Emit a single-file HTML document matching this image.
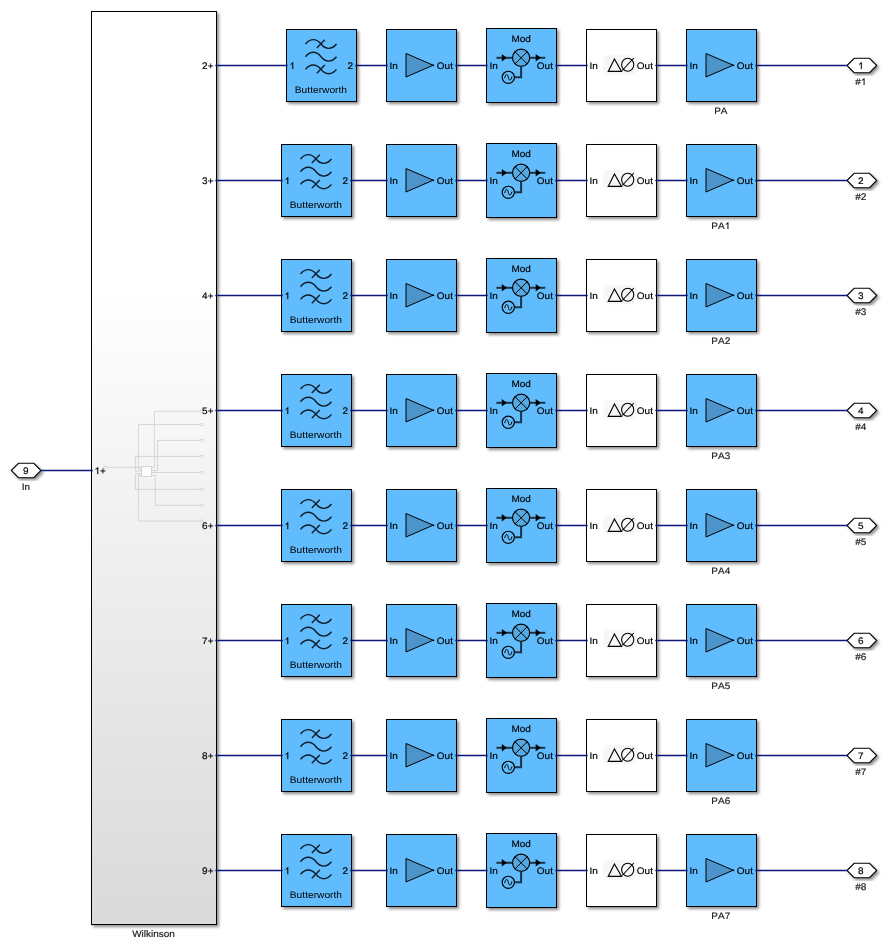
<!DOCTYPE html>
<html><head><meta charset="utf-8"><style>
html,body{margin:0;padding:0;background:#fff;}
body{width:887px;height:952px;overflow:hidden;}
svg{display:block;filter:blur(0.35px);font-family:"Liberation Sans",sans-serif;text-rendering:geometricPrecision;font-kerning:none;}
</style></head><body>
<svg width="887" height="952" viewBox="0 0 887 952" font-family="Liberation Sans">
<defs>
<path id="one" d="M763 0H583V1147Q518 1085 412.5 1023Q307 961 223 930V1104Q374 1175 487 1276Q600 1377 647 1472H763Z"/>
<linearGradient id="wg" gradientUnits="userSpaceOnUse" x1="0" y1="285.2" x2="0" y2="926.6">
<stop offset="0" stop-color="#ffffff"/><stop offset="1" stop-color="#d9d9d9"/>
</linearGradient>
<filter id="sh" x="-10%" y="-10%" width="130%" height="130%">
<feGaussianBlur in="SourceAlpha" stdDeviation="1.5"/>
<feOffset dx="2" dy="2" result="o"/>
<feComponentTransfer><feFuncA type="linear" slope="0.45"/></feComponentTransfer>
<feMerge><feMergeNode/><feMergeNode in="SourceGraphic"/></feMerge>
</filter>
</defs>
<rect width="887" height="952" fill="#fff"/>
<rect x="91.5" y="11.5" width="125" height="913" fill="url(#wg)" stroke="#000" stroke-width="1" filter="url(#sh)"/><text transform="translate(153.50 937.00) scale(1.05 1)" font-size="9.5" text-anchor="middle" fill="#1a1a1a" stroke="#1a1a1a" stroke-width="0.17" >Wilkinson</text><ellipse cx="201.5" cy="411.3" rx="2" ry="1.1" fill="none" stroke="#c9c9c9" stroke-width="0.7"/><ellipse cx="201.5" cy="424.6" rx="2" ry="1.1" fill="none" stroke="#c9c9c9" stroke-width="0.7"/><ellipse cx="201.5" cy="440.4" rx="2" ry="1.1" fill="none" stroke="#c9c9c9" stroke-width="0.7"/><ellipse cx="201.5" cy="456.4" rx="2" ry="1.1" fill="none" stroke="#c9c9c9" stroke-width="0.7"/><ellipse cx="201.5" cy="472.5" rx="2" ry="1.1" fill="none" stroke="#c9c9c9" stroke-width="0.7"/><ellipse cx="201.5" cy="489.4" rx="2" ry="1.1" fill="none" stroke="#c9c9c9" stroke-width="0.7"/><ellipse cx="201.5" cy="505.3" rx="2" ry="1.1" fill="none" stroke="#c9c9c9" stroke-width="0.7"/><ellipse cx="201.5" cy="521.1" rx="2" ry="1.1" fill="none" stroke="#c9c9c9" stroke-width="0.7"/><ellipse cx="105.3" cy="467.3" rx="2" ry="1.1" fill="none" stroke="#c9c9c9" stroke-width="0.7"/><rect x="141.4" y="466.5" width="10" height="10" fill="#fdfdfd" stroke="#c9c9c9" stroke-width="0.7"/><path d="M107.3,467.3 L141.4,467.3" fill="none" stroke="#c9c9c9" stroke-width="0.7"/><path d="M199.5,411.3 L154.4,411.3 L154.4,467.8 L151.4,467.8" fill="none" stroke="#c9c9c9" stroke-width="0.7"/><path d="M199.5,424.6 L138.4,424.6 L138.4,469 L141.4,469" fill="none" stroke="#c9c9c9" stroke-width="0.7"/><path d="M199.5,440.4 L157.5,440.4 L157.5,470.6 L151.4,470.6" fill="none" stroke="#c9c9c9" stroke-width="0.7"/><path d="M199.5,456.4 L135.4,456.4 L135.4,471.1 L141.4,471.1" fill="none" stroke="#c9c9c9" stroke-width="0.7"/><path d="M199.5,472.5 L151.4,472.5" fill="none" stroke="#c9c9c9" stroke-width="0.7"/><path d="M199.5,489.4 L135.4,489.4 L135.4,473.7 L141.4,473.7" fill="none" stroke="#c9c9c9" stroke-width="0.7"/><path d="M199.5,505.3 L155.3,505.3 L155.3,475.5 L151.4,475.5" fill="none" stroke="#c9c9c9" stroke-width="0.7"/><path d="M199.5,521.1 L138.4,521.1 L138.4,475.5 L141.4,475.5" fill="none" stroke="#c9c9c9" stroke-width="0.7"/><polygon points="11.3,470.5 18.5,463.3 33.8,463.3 41.0,470.5 33.8,477.7 18.5,477.7" fill="#fff" stroke="#000" stroke-width="1.1" filter="url(#sh)"/><text transform="translate(25.80 474.00) scale(1.05 1)" font-size="9.5" text-anchor="middle" fill="#000" stroke="#000" stroke-width="0.17" >9</text><text transform="translate(25.80 490.00) scale(1.05 1)" font-size="9.5" text-anchor="middle" fill="#1a1a1a" stroke="#1a1a1a" stroke-width="0.17" >In</text><line x1="40.8" y1="470.5" x2="92.7" y2="470.5" stroke="#0c177c" stroke-width="1.6"/><use href="#one" transform="translate(94.50 474.00) scale(0.00487 -0.00464)" fill="#000" stroke="#000" stroke-width="36.6"/><text transform="translate(100.05 474.00) scale(1.05 1)" font-size="9.5" fill="#000" stroke="#000" stroke-width="0.17" >+</text><text transform="translate(213.50 69.10) scale(1.05 1)" font-size="9.5" text-anchor="end" fill="#000" stroke="#000" stroke-width="0.17" >2+</text><rect x="286.5" y="29.5" width="70" height="72" fill="#60bcfc" stroke="#000" stroke-width="1" filter="url(#sh)"/><path d="M305.50,44.00 C310.30,38.15 316.20,38.15 321.00,44.00 C325.80,49.85 331.70,49.85 336.50,44.00" fill="none" stroke="#0e1c2a" stroke-width="1.4"/><path d="M305.50,56.70 C310.30,50.85 316.20,50.85 321.00,56.70 C325.80,62.55 331.70,62.55 336.50,56.70" fill="none" stroke="#0e1c2a" stroke-width="1.4"/><path d="M305.50,69.40 C310.30,63.55 316.20,63.55 321.00,69.40 C325.80,75.25 331.70,75.25 336.50,69.40" fill="none" stroke="#0e1c2a" stroke-width="1.4"/><line x1="316.80" y1="47.90" x2="324.80" y2="39.70" stroke="#0e1c2a" stroke-width="1.4"/><line x1="316.80" y1="73.30" x2="324.80" y2="65.10" stroke="#0e1c2a" stroke-width="1.4"/><use href="#one" transform="translate(289.50 69.10) scale(0.00487 -0.00464)" fill="#000" stroke="#000" stroke-width="36.6"/><text transform="translate(347.50 69.10) scale(1.05 1)" font-size="9.5" text-anchor="start" fill="#000" stroke="#000" stroke-width="0.17" >2</text><text transform="translate(320.90 92.50) scale(1.075 1)" font-size="9.5" text-anchor="middle">Butterworth</text><rect x="386.5" y="29.5" width="70" height="72" fill="#60bcfc" stroke="#000" stroke-width="1" filter="url(#sh)"/><path d="M406,53.5 L433.2,65.2 L406,77.0 Z" fill="#4c94c9" stroke="#000" stroke-width="1"/><circle cx="433.4" cy="65.3" r="0.9" fill="#000"/><text transform="translate(389.40 69.10) scale(1.05 1)" font-size="9.5" text-anchor="start" fill="#000" stroke="#000" stroke-width="0.17" >In</text><text transform="translate(452.90 69.10) scale(1.05 1)" font-size="9.5" text-anchor="end" fill="#000" stroke="#000" stroke-width="0.17" >Out</text><rect x="486.5" y="28.5" width="70" height="74" fill="#60bcfc" stroke="#000" stroke-width="1" filter="url(#sh)"/><line x1="496.4" y1="57.8" x2="512.5" y2="57.8" stroke="#1d3347" stroke-width="2"/><line x1="529.7" y1="57.8" x2="545.3" y2="57.8" stroke="#1d3347" stroke-width="2"/><path d="M501.8,54.099999999999994 L506.9,57.8 L501.8,61.5 Z" fill="#000"/><path d="M535.7,54.099999999999994 L540.8,57.8 L535.7,61.5 Z" fill="#000"/><circle cx="521.1" cy="57.8" r="8.6" fill="#55a9e3" stroke="#000" stroke-width="1.2"/><path d="M515.01894,51.718939999999996 L527.18106,63.88106 M527.18106,51.718939999999996 L515.01894,63.88106" stroke="#000" stroke-width="1"/><path d="M521.1,66.39999999999999 L521.1,77.3 L514.4,77.3" fill="none" stroke="#1d3347" stroke-width="2"/><circle cx="508.3" cy="77.3" r="6.1" fill="none" stroke="#000" stroke-width="1.15"/><path d="M504.7,78.1 C505.7,73.1 507.7,73.7 508.3,77.3 C508.90000000000003,80.89999999999999 510.90000000000003,81.5 511.90000000000003,76.5" fill="none" stroke="#000" stroke-width="1"/><text transform="translate(521.20 42.10) scale(1.05 1)" font-size="9.5" text-anchor="middle" fill="#000" stroke="#000" stroke-width="0.17" >Mod</text><text transform="translate(489.40 69.10) scale(1.05 1)" font-size="9.5" text-anchor="start" fill="#000" stroke="#000" stroke-width="0.17" >In</text><text transform="translate(552.90 69.10) scale(1.05 1)" font-size="9.5" text-anchor="end" fill="#000" stroke="#000" stroke-width="0.17" >Out</text><rect x="586.5" y="29.5" width="70" height="72" fill="#fff" stroke="#000" stroke-width="1" filter="url(#sh)"/><rect x="603.5" y="54.8" width="33.5" height="19.7" rx="5" fill="#f7f7f7"/><path d="M614.4,58.9 L608.2,71.4 L621.6,71.4 Z" fill="none" stroke="#000" stroke-width="1.1"/><ellipse cx="627.7" cy="64.8" rx="6.1" ry="6.5" fill="none" stroke="#000" stroke-width="1.1"/><line x1="622.2" y1="70.5" x2="633.8" y2="58.0" stroke="#000" stroke-width="1.1"/><text transform="translate(589.40 69.10) scale(1.05 1)" font-size="9.5" text-anchor="start" fill="#000" stroke="#000" stroke-width="0.17" >In</text><text transform="translate(652.90 69.10) scale(1.05 1)" font-size="9.5" text-anchor="end" fill="#000" stroke="#000" stroke-width="0.17" >Out</text><rect x="686.5" y="29.5" width="70" height="72" fill="#60bcfc" stroke="#000" stroke-width="1" filter="url(#sh)"/><path d="M706,53.5 L733.2,65.2 L706,77.0 Z" fill="#4c94c9" stroke="#000" stroke-width="1"/><circle cx="733.4" cy="65.3" r="0.9" fill="#000"/><text transform="translate(689.40 69.10) scale(1.05 1)" font-size="9.5" text-anchor="start" fill="#000" stroke="#000" stroke-width="0.17" >In</text><text transform="translate(752.90 69.10) scale(1.05 1)" font-size="9.5" text-anchor="end" fill="#000" stroke="#000" stroke-width="0.17" >Out</text><text transform="translate(720.80 114.00) scale(1.05 1)" font-size="9.5" text-anchor="middle" fill="#1a1a1a" stroke="#1a1a1a" stroke-width="0.17" >PA</text><polygon points="847.0,65.5 854.2,58.3 869.5,58.3 876.7,65.5 869.5,72.7 854.2,72.7" fill="#fff" stroke="#000" stroke-width="1.1" filter="url(#sh)"/><use href="#one" transform="translate(858.03 69.00) scale(0.00487 -0.00464)" fill="#000" stroke="#000" stroke-width="36.6"/><text transform="translate(855.25 85.00) scale(1.05 1)" font-size="9.5" fill="#1a1a1a" stroke="#1a1a1a" stroke-width="0.17" >#</text><use href="#one" transform="translate(860.80 85.00) scale(0.00487 -0.00464)" fill="#1a1a1a" stroke="#1a1a1a" stroke-width="36.6"/><line x1="215.3" y1="65.5" x2="287.7" y2="65.5" stroke="#0c177c" stroke-width="1.6"/><line x1="355.3" y1="65.5" x2="387.7" y2="65.5" stroke="#0c177c" stroke-width="1.6"/><line x1="455.3" y1="65.5" x2="487.7" y2="65.5" stroke="#0c177c" stroke-width="1.6"/><line x1="555.3" y1="65.5" x2="587.7" y2="65.5" stroke="#0c177c" stroke-width="1.6"/><line x1="655.3" y1="65.5" x2="687.7" y2="65.5" stroke="#0c177c" stroke-width="1.6"/><line x1="755.3" y1="65.5" x2="847.3" y2="65.5" stroke="#0c177c" stroke-width="1.6"/><text transform="translate(213.50 184.10) scale(1.05 1)" font-size="9.5" text-anchor="end" fill="#000" stroke="#000" stroke-width="0.17" >3+</text><rect x="281.5" y="144.5" width="70" height="72" fill="#60bcfc" stroke="#000" stroke-width="1" filter="url(#sh)"/><path d="M300.50,159.00 C305.30,153.15 311.20,153.15 316.00,159.00 C320.80,164.85 326.70,164.85 331.50,159.00" fill="none" stroke="#0e1c2a" stroke-width="1.4"/><path d="M300.50,171.70 C305.30,165.85 311.20,165.85 316.00,171.70 C320.80,177.55 326.70,177.55 331.50,171.70" fill="none" stroke="#0e1c2a" stroke-width="1.4"/><path d="M300.50,184.40 C305.30,178.55 311.20,178.55 316.00,184.40 C320.80,190.25 326.70,190.25 331.50,184.40" fill="none" stroke="#0e1c2a" stroke-width="1.4"/><line x1="311.80" y1="162.90" x2="319.80" y2="154.70" stroke="#0e1c2a" stroke-width="1.4"/><line x1="311.80" y1="188.30" x2="319.80" y2="180.10" stroke="#0e1c2a" stroke-width="1.4"/><use href="#one" transform="translate(284.50 184.10) scale(0.00487 -0.00464)" fill="#000" stroke="#000" stroke-width="36.6"/><text transform="translate(342.50 184.10) scale(1.05 1)" font-size="9.5" text-anchor="start" fill="#000" stroke="#000" stroke-width="0.17" >2</text><text transform="translate(315.90 207.50) scale(1.075 1)" font-size="9.5" text-anchor="middle">Butterworth</text><rect x="386.5" y="144.5" width="70" height="72" fill="#60bcfc" stroke="#000" stroke-width="1" filter="url(#sh)"/><path d="M406,168.5 L433.2,180.2 L406,192.0 Z" fill="#4c94c9" stroke="#000" stroke-width="1"/><circle cx="433.4" cy="180.3" r="0.9" fill="#000"/><text transform="translate(389.40 184.10) scale(1.05 1)" font-size="9.5" text-anchor="start" fill="#000" stroke="#000" stroke-width="0.17" >In</text><text transform="translate(452.90 184.10) scale(1.05 1)" font-size="9.5" text-anchor="end" fill="#000" stroke="#000" stroke-width="0.17" >Out</text><rect x="486.5" y="143.5" width="70" height="74" fill="#60bcfc" stroke="#000" stroke-width="1" filter="url(#sh)"/><line x1="496.4" y1="172.8" x2="512.5" y2="172.8" stroke="#1d3347" stroke-width="2"/><line x1="529.7" y1="172.8" x2="545.3" y2="172.8" stroke="#1d3347" stroke-width="2"/><path d="M501.8,169.10000000000002 L506.9,172.8 L501.8,176.5 Z" fill="#000"/><path d="M535.7,169.10000000000002 L540.8,172.8 L535.7,176.5 Z" fill="#000"/><circle cx="521.1" cy="172.8" r="8.6" fill="#55a9e3" stroke="#000" stroke-width="1.2"/><path d="M515.01894,166.71894 L527.18106,178.88106000000002 M527.18106,166.71894 L515.01894,178.88106000000002" stroke="#000" stroke-width="1"/><path d="M521.1,181.4 L521.1,192.3 L514.4,192.3" fill="none" stroke="#1d3347" stroke-width="2"/><circle cx="508.3" cy="192.3" r="6.1" fill="none" stroke="#000" stroke-width="1.15"/><path d="M504.7,193.10000000000002 C505.7,188.10000000000002 507.7,188.70000000000002 508.3,192.3 C508.90000000000003,195.9 510.90000000000003,196.5 511.90000000000003,191.5" fill="none" stroke="#000" stroke-width="1"/><text transform="translate(521.20 157.10) scale(1.05 1)" font-size="9.5" text-anchor="middle" fill="#000" stroke="#000" stroke-width="0.17" >Mod</text><text transform="translate(489.40 184.10) scale(1.05 1)" font-size="9.5" text-anchor="start" fill="#000" stroke="#000" stroke-width="0.17" >In</text><text transform="translate(552.90 184.10) scale(1.05 1)" font-size="9.5" text-anchor="end" fill="#000" stroke="#000" stroke-width="0.17" >Out</text><rect x="586.5" y="144.5" width="70" height="72" fill="#fff" stroke="#000" stroke-width="1" filter="url(#sh)"/><rect x="603.5" y="169.8" width="33.5" height="19.7" rx="5" fill="#f7f7f7"/><path d="M614.4,173.9 L608.2,186.4 L621.6,186.4 Z" fill="none" stroke="#000" stroke-width="1.1"/><ellipse cx="627.7" cy="179.8" rx="6.1" ry="6.5" fill="none" stroke="#000" stroke-width="1.1"/><line x1="622.2" y1="185.5" x2="633.8" y2="173.0" stroke="#000" stroke-width="1.1"/><text transform="translate(589.40 184.10) scale(1.05 1)" font-size="9.5" text-anchor="start" fill="#000" stroke="#000" stroke-width="0.17" >In</text><text transform="translate(652.90 184.10) scale(1.05 1)" font-size="9.5" text-anchor="end" fill="#000" stroke="#000" stroke-width="0.17" >Out</text><rect x="686.5" y="144.5" width="70" height="72" fill="#60bcfc" stroke="#000" stroke-width="1" filter="url(#sh)"/><path d="M706,168.5 L733.2,180.2 L706,192.0 Z" fill="#4c94c9" stroke="#000" stroke-width="1"/><circle cx="733.4" cy="180.3" r="0.9" fill="#000"/><text transform="translate(689.40 184.10) scale(1.05 1)" font-size="9.5" text-anchor="start" fill="#000" stroke="#000" stroke-width="0.17" >In</text><text transform="translate(752.90 184.10) scale(1.05 1)" font-size="9.5" text-anchor="end" fill="#000" stroke="#000" stroke-width="0.17" >Out</text><text transform="translate(711.37 229.00) scale(1.05 1)" font-size="9.5" fill="#1a1a1a" stroke="#1a1a1a" stroke-width="0.17" >PA</text><use href="#one" transform="translate(724.68 229.00) scale(0.00487 -0.00464)" fill="#1a1a1a" stroke="#1a1a1a" stroke-width="36.6"/><polygon points="847.0,180.5 854.2,173.3 869.5,173.3 876.7,180.5 869.5,187.7 854.2,187.7" fill="#fff" stroke="#000" stroke-width="1.1" filter="url(#sh)"/><text transform="translate(860.80 184.00) scale(1.05 1)" font-size="9.5" text-anchor="middle" fill="#000" stroke="#000" stroke-width="0.17" >2</text><text transform="translate(860.80 200.00) scale(1.05 1)" font-size="9.5" text-anchor="middle" fill="#1a1a1a" stroke="#1a1a1a" stroke-width="0.17" >#2</text><line x1="215.3" y1="180.5" x2="282.7" y2="180.5" stroke="#0c177c" stroke-width="1.6"/><line x1="350.3" y1="180.5" x2="387.7" y2="180.5" stroke="#0c177c" stroke-width="1.6"/><line x1="455.3" y1="180.5" x2="487.7" y2="180.5" stroke="#0c177c" stroke-width="1.6"/><line x1="555.3" y1="180.5" x2="587.7" y2="180.5" stroke="#0c177c" stroke-width="1.6"/><line x1="655.3" y1="180.5" x2="687.7" y2="180.5" stroke="#0c177c" stroke-width="1.6"/><line x1="755.3" y1="180.5" x2="847.3" y2="180.5" stroke="#0c177c" stroke-width="1.6"/><text transform="translate(213.50 299.10) scale(1.05 1)" font-size="9.5" text-anchor="end" fill="#000" stroke="#000" stroke-width="0.17" >4+</text><rect x="281.5" y="259.5" width="70" height="72" fill="#60bcfc" stroke="#000" stroke-width="1" filter="url(#sh)"/><path d="M300.50,274.00 C305.30,268.15 311.20,268.15 316.00,274.00 C320.80,279.85 326.70,279.85 331.50,274.00" fill="none" stroke="#0e1c2a" stroke-width="1.4"/><path d="M300.50,286.70 C305.30,280.85 311.20,280.85 316.00,286.70 C320.80,292.55 326.70,292.55 331.50,286.70" fill="none" stroke="#0e1c2a" stroke-width="1.4"/><path d="M300.50,299.40 C305.30,293.55 311.20,293.55 316.00,299.40 C320.80,305.25 326.70,305.25 331.50,299.40" fill="none" stroke="#0e1c2a" stroke-width="1.4"/><line x1="311.80" y1="277.90" x2="319.80" y2="269.70" stroke="#0e1c2a" stroke-width="1.4"/><line x1="311.80" y1="303.30" x2="319.80" y2="295.10" stroke="#0e1c2a" stroke-width="1.4"/><use href="#one" transform="translate(284.50 299.10) scale(0.00487 -0.00464)" fill="#000" stroke="#000" stroke-width="36.6"/><text transform="translate(342.50 299.10) scale(1.05 1)" font-size="9.5" text-anchor="start" fill="#000" stroke="#000" stroke-width="0.17" >2</text><text transform="translate(315.90 322.50) scale(1.075 1)" font-size="9.5" text-anchor="middle">Butterworth</text><rect x="386.5" y="259.5" width="70" height="72" fill="#60bcfc" stroke="#000" stroke-width="1" filter="url(#sh)"/><path d="M406,283.5 L433.2,295.2 L406,307.0 Z" fill="#4c94c9" stroke="#000" stroke-width="1"/><circle cx="433.4" cy="295.3" r="0.9" fill="#000"/><text transform="translate(389.40 299.10) scale(1.05 1)" font-size="9.5" text-anchor="start" fill="#000" stroke="#000" stroke-width="0.17" >In</text><text transform="translate(452.90 299.10) scale(1.05 1)" font-size="9.5" text-anchor="end" fill="#000" stroke="#000" stroke-width="0.17" >Out</text><rect x="486.5" y="258.5" width="70" height="74" fill="#60bcfc" stroke="#000" stroke-width="1" filter="url(#sh)"/><line x1="496.4" y1="287.8" x2="512.5" y2="287.8" stroke="#1d3347" stroke-width="2"/><line x1="529.7" y1="287.8" x2="545.3" y2="287.8" stroke="#1d3347" stroke-width="2"/><path d="M501.8,284.1 L506.9,287.8 L501.8,291.5 Z" fill="#000"/><path d="M535.7,284.1 L540.8,287.8 L535.7,291.5 Z" fill="#000"/><circle cx="521.1" cy="287.8" r="8.6" fill="#55a9e3" stroke="#000" stroke-width="1.2"/><path d="M515.01894,281.71894000000003 L527.18106,293.88106 M527.18106,281.71894000000003 L515.01894,293.88106" stroke="#000" stroke-width="1"/><path d="M521.1,296.40000000000003 L521.1,307.3 L514.4,307.3" fill="none" stroke="#1d3347" stroke-width="2"/><circle cx="508.3" cy="307.3" r="6.1" fill="none" stroke="#000" stroke-width="1.15"/><path d="M504.7,308.1 C505.7,303.1 507.7,303.7 508.3,307.3 C508.90000000000003,310.90000000000003 510.90000000000003,311.5 511.90000000000003,306.5" fill="none" stroke="#000" stroke-width="1"/><text transform="translate(521.20 272.10) scale(1.05 1)" font-size="9.5" text-anchor="middle" fill="#000" stroke="#000" stroke-width="0.17" >Mod</text><text transform="translate(489.40 299.10) scale(1.05 1)" font-size="9.5" text-anchor="start" fill="#000" stroke="#000" stroke-width="0.17" >In</text><text transform="translate(552.90 299.10) scale(1.05 1)" font-size="9.5" text-anchor="end" fill="#000" stroke="#000" stroke-width="0.17" >Out</text><rect x="586.5" y="259.5" width="70" height="72" fill="#fff" stroke="#000" stroke-width="1" filter="url(#sh)"/><rect x="603.5" y="284.8" width="33.5" height="19.7" rx="5" fill="#f7f7f7"/><path d="M614.4,288.9 L608.2,301.4 L621.6,301.4 Z" fill="none" stroke="#000" stroke-width="1.1"/><ellipse cx="627.7" cy="294.8" rx="6.1" ry="6.5" fill="none" stroke="#000" stroke-width="1.1"/><line x1="622.2" y1="300.5" x2="633.8" y2="288.0" stroke="#000" stroke-width="1.1"/><text transform="translate(589.40 299.10) scale(1.05 1)" font-size="9.5" text-anchor="start" fill="#000" stroke="#000" stroke-width="0.17" >In</text><text transform="translate(652.90 299.10) scale(1.05 1)" font-size="9.5" text-anchor="end" fill="#000" stroke="#000" stroke-width="0.17" >Out</text><rect x="686.5" y="259.5" width="70" height="72" fill="#60bcfc" stroke="#000" stroke-width="1" filter="url(#sh)"/><path d="M706,283.5 L733.2,295.2 L706,307.0 Z" fill="#4c94c9" stroke="#000" stroke-width="1"/><circle cx="733.4" cy="295.3" r="0.9" fill="#000"/><text transform="translate(689.40 299.10) scale(1.05 1)" font-size="9.5" text-anchor="start" fill="#000" stroke="#000" stroke-width="0.17" >In</text><text transform="translate(752.90 299.10) scale(1.05 1)" font-size="9.5" text-anchor="end" fill="#000" stroke="#000" stroke-width="0.17" >Out</text><text transform="translate(720.80 344.00) scale(1.05 1)" font-size="9.5" text-anchor="middle" fill="#1a1a1a" stroke="#1a1a1a" stroke-width="0.17" >PA2</text><polygon points="847.0,295.5 854.2,288.3 869.5,288.3 876.7,295.5 869.5,302.7 854.2,302.7" fill="#fff" stroke="#000" stroke-width="1.1" filter="url(#sh)"/><text transform="translate(860.80 299.00) scale(1.05 1)" font-size="9.5" text-anchor="middle" fill="#000" stroke="#000" stroke-width="0.17" >3</text><text transform="translate(860.80 315.00) scale(1.05 1)" font-size="9.5" text-anchor="middle" fill="#1a1a1a" stroke="#1a1a1a" stroke-width="0.17" >#3</text><line x1="215.3" y1="295.5" x2="282.7" y2="295.5" stroke="#0c177c" stroke-width="1.6"/><line x1="350.3" y1="295.5" x2="387.7" y2="295.5" stroke="#0c177c" stroke-width="1.6"/><line x1="455.3" y1="295.5" x2="487.7" y2="295.5" stroke="#0c177c" stroke-width="1.6"/><line x1="555.3" y1="295.5" x2="587.7" y2="295.5" stroke="#0c177c" stroke-width="1.6"/><line x1="655.3" y1="295.5" x2="687.7" y2="295.5" stroke="#0c177c" stroke-width="1.6"/><line x1="755.3" y1="295.5" x2="847.3" y2="295.5" stroke="#0c177c" stroke-width="1.6"/><text transform="translate(213.50 414.10) scale(1.05 1)" font-size="9.5" text-anchor="end" fill="#000" stroke="#000" stroke-width="0.17" >5+</text><rect x="281.5" y="374.5" width="70" height="72" fill="#60bcfc" stroke="#000" stroke-width="1" filter="url(#sh)"/><path d="M300.50,389.00 C305.30,383.15 311.20,383.15 316.00,389.00 C320.80,394.85 326.70,394.85 331.50,389.00" fill="none" stroke="#0e1c2a" stroke-width="1.4"/><path d="M300.50,401.70 C305.30,395.85 311.20,395.85 316.00,401.70 C320.80,407.55 326.70,407.55 331.50,401.70" fill="none" stroke="#0e1c2a" stroke-width="1.4"/><path d="M300.50,414.40 C305.30,408.55 311.20,408.55 316.00,414.40 C320.80,420.25 326.70,420.25 331.50,414.40" fill="none" stroke="#0e1c2a" stroke-width="1.4"/><line x1="311.80" y1="392.90" x2="319.80" y2="384.70" stroke="#0e1c2a" stroke-width="1.4"/><line x1="311.80" y1="418.30" x2="319.80" y2="410.10" stroke="#0e1c2a" stroke-width="1.4"/><use href="#one" transform="translate(284.50 414.10) scale(0.00487 -0.00464)" fill="#000" stroke="#000" stroke-width="36.6"/><text transform="translate(342.50 414.10) scale(1.05 1)" font-size="9.5" text-anchor="start" fill="#000" stroke="#000" stroke-width="0.17" >2</text><text transform="translate(315.90 437.50) scale(1.075 1)" font-size="9.5" text-anchor="middle">Butterworth</text><rect x="386.5" y="374.5" width="70" height="72" fill="#60bcfc" stroke="#000" stroke-width="1" filter="url(#sh)"/><path d="M406,398.5 L433.2,410.2 L406,422.0 Z" fill="#4c94c9" stroke="#000" stroke-width="1"/><circle cx="433.4" cy="410.3" r="0.9" fill="#000"/><text transform="translate(389.40 414.10) scale(1.05 1)" font-size="9.5" text-anchor="start" fill="#000" stroke="#000" stroke-width="0.17" >In</text><text transform="translate(452.90 414.10) scale(1.05 1)" font-size="9.5" text-anchor="end" fill="#000" stroke="#000" stroke-width="0.17" >Out</text><rect x="486.5" y="373.5" width="70" height="74" fill="#60bcfc" stroke="#000" stroke-width="1" filter="url(#sh)"/><line x1="496.4" y1="402.8" x2="512.5" y2="402.8" stroke="#1d3347" stroke-width="2"/><line x1="529.7" y1="402.8" x2="545.3" y2="402.8" stroke="#1d3347" stroke-width="2"/><path d="M501.8,399.1 L506.9,402.8 L501.8,406.5 Z" fill="#000"/><path d="M535.7,399.1 L540.8,402.8 L535.7,406.5 Z" fill="#000"/><circle cx="521.1" cy="402.8" r="8.6" fill="#55a9e3" stroke="#000" stroke-width="1.2"/><path d="M515.01894,396.71894000000003 L527.18106,408.88106 M527.18106,396.71894000000003 L515.01894,408.88106" stroke="#000" stroke-width="1"/><path d="M521.1,411.40000000000003 L521.1,422.3 L514.4,422.3" fill="none" stroke="#1d3347" stroke-width="2"/><circle cx="508.3" cy="422.3" r="6.1" fill="none" stroke="#000" stroke-width="1.15"/><path d="M504.7,423.1 C505.7,418.1 507.7,418.7 508.3,422.3 C508.90000000000003,425.90000000000003 510.90000000000003,426.5 511.90000000000003,421.5" fill="none" stroke="#000" stroke-width="1"/><text transform="translate(521.20 387.10) scale(1.05 1)" font-size="9.5" text-anchor="middle" fill="#000" stroke="#000" stroke-width="0.17" >Mod</text><text transform="translate(489.40 414.10) scale(1.05 1)" font-size="9.5" text-anchor="start" fill="#000" stroke="#000" stroke-width="0.17" >In</text><text transform="translate(552.90 414.10) scale(1.05 1)" font-size="9.5" text-anchor="end" fill="#000" stroke="#000" stroke-width="0.17" >Out</text><rect x="586.5" y="374.5" width="70" height="72" fill="#fff" stroke="#000" stroke-width="1" filter="url(#sh)"/><rect x="603.5" y="399.8" width="33.5" height="19.7" rx="5" fill="#f7f7f7"/><path d="M614.4,403.9 L608.2,416.4 L621.6,416.4 Z" fill="none" stroke="#000" stroke-width="1.1"/><ellipse cx="627.7" cy="409.8" rx="6.1" ry="6.5" fill="none" stroke="#000" stroke-width="1.1"/><line x1="622.2" y1="415.5" x2="633.8" y2="403.0" stroke="#000" stroke-width="1.1"/><text transform="translate(589.40 414.10) scale(1.05 1)" font-size="9.5" text-anchor="start" fill="#000" stroke="#000" stroke-width="0.17" >In</text><text transform="translate(652.90 414.10) scale(1.05 1)" font-size="9.5" text-anchor="end" fill="#000" stroke="#000" stroke-width="0.17" >Out</text><rect x="686.5" y="374.5" width="70" height="72" fill="#60bcfc" stroke="#000" stroke-width="1" filter="url(#sh)"/><path d="M706,398.5 L733.2,410.2 L706,422.0 Z" fill="#4c94c9" stroke="#000" stroke-width="1"/><circle cx="733.4" cy="410.3" r="0.9" fill="#000"/><text transform="translate(689.40 414.10) scale(1.05 1)" font-size="9.5" text-anchor="start" fill="#000" stroke="#000" stroke-width="0.17" >In</text><text transform="translate(752.90 414.10) scale(1.05 1)" font-size="9.5" text-anchor="end" fill="#000" stroke="#000" stroke-width="0.17" >Out</text><text transform="translate(720.80 459.00) scale(1.05 1)" font-size="9.5" text-anchor="middle" fill="#1a1a1a" stroke="#1a1a1a" stroke-width="0.17" >PA3</text><polygon points="847.0,410.5 854.2,403.3 869.5,403.3 876.7,410.5 869.5,417.7 854.2,417.7" fill="#fff" stroke="#000" stroke-width="1.1" filter="url(#sh)"/><text transform="translate(860.80 414.00) scale(1.05 1)" font-size="9.5" text-anchor="middle" fill="#000" stroke="#000" stroke-width="0.17" >4</text><text transform="translate(860.80 430.00) scale(1.05 1)" font-size="9.5" text-anchor="middle" fill="#1a1a1a" stroke="#1a1a1a" stroke-width="0.17" >#4</text><line x1="215.3" y1="410.5" x2="282.7" y2="410.5" stroke="#0c177c" stroke-width="1.6"/><line x1="350.3" y1="410.5" x2="387.7" y2="410.5" stroke="#0c177c" stroke-width="1.6"/><line x1="455.3" y1="410.5" x2="487.7" y2="410.5" stroke="#0c177c" stroke-width="1.6"/><line x1="555.3" y1="410.5" x2="587.7" y2="410.5" stroke="#0c177c" stroke-width="1.6"/><line x1="655.3" y1="410.5" x2="687.7" y2="410.5" stroke="#0c177c" stroke-width="1.6"/><line x1="755.3" y1="410.5" x2="847.3" y2="410.5" stroke="#0c177c" stroke-width="1.6"/><text transform="translate(213.50 529.10) scale(1.05 1)" font-size="9.5" text-anchor="end" fill="#000" stroke="#000" stroke-width="0.17" >6+</text><rect x="281.5" y="489.5" width="70" height="72" fill="#60bcfc" stroke="#000" stroke-width="1" filter="url(#sh)"/><path d="M300.50,504.00 C305.30,498.15 311.20,498.15 316.00,504.00 C320.80,509.85 326.70,509.85 331.50,504.00" fill="none" stroke="#0e1c2a" stroke-width="1.4"/><path d="M300.50,516.70 C305.30,510.85 311.20,510.85 316.00,516.70 C320.80,522.55 326.70,522.55 331.50,516.70" fill="none" stroke="#0e1c2a" stroke-width="1.4"/><path d="M300.50,529.40 C305.30,523.55 311.20,523.55 316.00,529.40 C320.80,535.25 326.70,535.25 331.50,529.40" fill="none" stroke="#0e1c2a" stroke-width="1.4"/><line x1="311.80" y1="507.90" x2="319.80" y2="499.70" stroke="#0e1c2a" stroke-width="1.4"/><line x1="311.80" y1="533.30" x2="319.80" y2="525.10" stroke="#0e1c2a" stroke-width="1.4"/><use href="#one" transform="translate(284.50 529.10) scale(0.00487 -0.00464)" fill="#000" stroke="#000" stroke-width="36.6"/><text transform="translate(342.50 529.10) scale(1.05 1)" font-size="9.5" text-anchor="start" fill="#000" stroke="#000" stroke-width="0.17" >2</text><text transform="translate(315.90 552.50) scale(1.075 1)" font-size="9.5" text-anchor="middle">Butterworth</text><rect x="386.5" y="489.5" width="70" height="72" fill="#60bcfc" stroke="#000" stroke-width="1" filter="url(#sh)"/><path d="M406,513.5 L433.2,525.2 L406,537.0 Z" fill="#4c94c9" stroke="#000" stroke-width="1"/><circle cx="433.4" cy="525.3" r="0.9" fill="#000"/><text transform="translate(389.40 529.10) scale(1.05 1)" font-size="9.5" text-anchor="start" fill="#000" stroke="#000" stroke-width="0.17" >In</text><text transform="translate(452.90 529.10) scale(1.05 1)" font-size="9.5" text-anchor="end" fill="#000" stroke="#000" stroke-width="0.17" >Out</text><rect x="486.5" y="488.5" width="70" height="74" fill="#60bcfc" stroke="#000" stroke-width="1" filter="url(#sh)"/><line x1="496.4" y1="517.8" x2="512.5" y2="517.8" stroke="#1d3347" stroke-width="2"/><line x1="529.7" y1="517.8" x2="545.3" y2="517.8" stroke="#1d3347" stroke-width="2"/><path d="M501.8,514.0999999999999 L506.9,517.8 L501.8,521.5 Z" fill="#000"/><path d="M535.7,514.0999999999999 L540.8,517.8 L535.7,521.5 Z" fill="#000"/><circle cx="521.1" cy="517.8" r="8.6" fill="#55a9e3" stroke="#000" stroke-width="1.2"/><path d="M515.01894,511.71894 L527.18106,523.8810599999999 M527.18106,511.71894 L515.01894,523.8810599999999" stroke="#000" stroke-width="1"/><path d="M521.1,526.4 L521.1,537.3 L514.4,537.3" fill="none" stroke="#1d3347" stroke-width="2"/><circle cx="508.3" cy="537.3" r="6.1" fill="none" stroke="#000" stroke-width="1.15"/><path d="M504.7,538.0999999999999 C505.7,533.0999999999999 507.7,533.6999999999999 508.3,537.3 C508.90000000000003,540.9 510.90000000000003,541.5 511.90000000000003,536.5" fill="none" stroke="#000" stroke-width="1"/><text transform="translate(521.20 502.10) scale(1.05 1)" font-size="9.5" text-anchor="middle" fill="#000" stroke="#000" stroke-width="0.17" >Mod</text><text transform="translate(489.40 529.10) scale(1.05 1)" font-size="9.5" text-anchor="start" fill="#000" stroke="#000" stroke-width="0.17" >In</text><text transform="translate(552.90 529.10) scale(1.05 1)" font-size="9.5" text-anchor="end" fill="#000" stroke="#000" stroke-width="0.17" >Out</text><rect x="586.5" y="489.5" width="70" height="72" fill="#fff" stroke="#000" stroke-width="1" filter="url(#sh)"/><rect x="603.5" y="514.8" width="33.5" height="19.7" rx="5" fill="#f7f7f7"/><path d="M614.4,518.9 L608.2,531.4 L621.6,531.4 Z" fill="none" stroke="#000" stroke-width="1.1"/><ellipse cx="627.7" cy="524.8" rx="6.1" ry="6.5" fill="none" stroke="#000" stroke-width="1.1"/><line x1="622.2" y1="530.5" x2="633.8" y2="518.0" stroke="#000" stroke-width="1.1"/><text transform="translate(589.40 529.10) scale(1.05 1)" font-size="9.5" text-anchor="start" fill="#000" stroke="#000" stroke-width="0.17" >In</text><text transform="translate(652.90 529.10) scale(1.05 1)" font-size="9.5" text-anchor="end" fill="#000" stroke="#000" stroke-width="0.17" >Out</text><rect x="686.5" y="489.5" width="70" height="72" fill="#60bcfc" stroke="#000" stroke-width="1" filter="url(#sh)"/><path d="M706,513.5 L733.2,525.2 L706,537.0 Z" fill="#4c94c9" stroke="#000" stroke-width="1"/><circle cx="733.4" cy="525.3" r="0.9" fill="#000"/><text transform="translate(689.40 529.10) scale(1.05 1)" font-size="9.5" text-anchor="start" fill="#000" stroke="#000" stroke-width="0.17" >In</text><text transform="translate(752.90 529.10) scale(1.05 1)" font-size="9.5" text-anchor="end" fill="#000" stroke="#000" stroke-width="0.17" >Out</text><text transform="translate(720.80 574.00) scale(1.05 1)" font-size="9.5" text-anchor="middle" fill="#1a1a1a" stroke="#1a1a1a" stroke-width="0.17" >PA4</text><polygon points="847.0,525.5 854.2,518.3 869.5,518.3 876.7,525.5 869.5,532.7 854.2,532.7" fill="#fff" stroke="#000" stroke-width="1.1" filter="url(#sh)"/><text transform="translate(860.80 529.00) scale(1.05 1)" font-size="9.5" text-anchor="middle" fill="#000" stroke="#000" stroke-width="0.17" >5</text><text transform="translate(860.80 545.00) scale(1.05 1)" font-size="9.5" text-anchor="middle" fill="#1a1a1a" stroke="#1a1a1a" stroke-width="0.17" >#5</text><line x1="215.3" y1="525.5" x2="282.7" y2="525.5" stroke="#0c177c" stroke-width="1.6"/><line x1="350.3" y1="525.5" x2="387.7" y2="525.5" stroke="#0c177c" stroke-width="1.6"/><line x1="455.3" y1="525.5" x2="487.7" y2="525.5" stroke="#0c177c" stroke-width="1.6"/><line x1="555.3" y1="525.5" x2="587.7" y2="525.5" stroke="#0c177c" stroke-width="1.6"/><line x1="655.3" y1="525.5" x2="687.7" y2="525.5" stroke="#0c177c" stroke-width="1.6"/><line x1="755.3" y1="525.5" x2="847.3" y2="525.5" stroke="#0c177c" stroke-width="1.6"/><text transform="translate(213.50 644.10) scale(1.05 1)" font-size="9.5" text-anchor="end" fill="#000" stroke="#000" stroke-width="0.17" >7+</text><rect x="281.5" y="604.5" width="70" height="72" fill="#60bcfc" stroke="#000" stroke-width="1" filter="url(#sh)"/><path d="M300.50,619.00 C305.30,613.15 311.20,613.15 316.00,619.00 C320.80,624.85 326.70,624.85 331.50,619.00" fill="none" stroke="#0e1c2a" stroke-width="1.4"/><path d="M300.50,631.70 C305.30,625.85 311.20,625.85 316.00,631.70 C320.80,637.55 326.70,637.55 331.50,631.70" fill="none" stroke="#0e1c2a" stroke-width="1.4"/><path d="M300.50,644.40 C305.30,638.55 311.20,638.55 316.00,644.40 C320.80,650.25 326.70,650.25 331.50,644.40" fill="none" stroke="#0e1c2a" stroke-width="1.4"/><line x1="311.80" y1="622.90" x2="319.80" y2="614.70" stroke="#0e1c2a" stroke-width="1.4"/><line x1="311.80" y1="648.30" x2="319.80" y2="640.10" stroke="#0e1c2a" stroke-width="1.4"/><use href="#one" transform="translate(284.50 644.10) scale(0.00487 -0.00464)" fill="#000" stroke="#000" stroke-width="36.6"/><text transform="translate(342.50 644.10) scale(1.05 1)" font-size="9.5" text-anchor="start" fill="#000" stroke="#000" stroke-width="0.17" >2</text><text transform="translate(315.90 667.50) scale(1.075 1)" font-size="9.5" text-anchor="middle">Butterworth</text><rect x="386.5" y="604.5" width="70" height="72" fill="#60bcfc" stroke="#000" stroke-width="1" filter="url(#sh)"/><path d="M406,628.5 L433.2,640.2 L406,652.0 Z" fill="#4c94c9" stroke="#000" stroke-width="1"/><circle cx="433.4" cy="640.3" r="0.9" fill="#000"/><text transform="translate(389.40 644.10) scale(1.05 1)" font-size="9.5" text-anchor="start" fill="#000" stroke="#000" stroke-width="0.17" >In</text><text transform="translate(452.90 644.10) scale(1.05 1)" font-size="9.5" text-anchor="end" fill="#000" stroke="#000" stroke-width="0.17" >Out</text><rect x="486.5" y="603.5" width="70" height="74" fill="#60bcfc" stroke="#000" stroke-width="1" filter="url(#sh)"/><line x1="496.4" y1="632.8" x2="512.5" y2="632.8" stroke="#1d3347" stroke-width="2"/><line x1="529.7" y1="632.8" x2="545.3" y2="632.8" stroke="#1d3347" stroke-width="2"/><path d="M501.8,629.0999999999999 L506.9,632.8 L501.8,636.5 Z" fill="#000"/><path d="M535.7,629.0999999999999 L540.8,632.8 L535.7,636.5 Z" fill="#000"/><circle cx="521.1" cy="632.8" r="8.6" fill="#55a9e3" stroke="#000" stroke-width="1.2"/><path d="M515.01894,626.71894 L527.18106,638.8810599999999 M527.18106,626.71894 L515.01894,638.8810599999999" stroke="#000" stroke-width="1"/><path d="M521.1,641.4 L521.1,652.3 L514.4,652.3" fill="none" stroke="#1d3347" stroke-width="2"/><circle cx="508.3" cy="652.3" r="6.1" fill="none" stroke="#000" stroke-width="1.15"/><path d="M504.7,653.0999999999999 C505.7,648.0999999999999 507.7,648.6999999999999 508.3,652.3 C508.90000000000003,655.9 510.90000000000003,656.5 511.90000000000003,651.5" fill="none" stroke="#000" stroke-width="1"/><text transform="translate(521.20 617.10) scale(1.05 1)" font-size="9.5" text-anchor="middle" fill="#000" stroke="#000" stroke-width="0.17" >Mod</text><text transform="translate(489.40 644.10) scale(1.05 1)" font-size="9.5" text-anchor="start" fill="#000" stroke="#000" stroke-width="0.17" >In</text><text transform="translate(552.90 644.10) scale(1.05 1)" font-size="9.5" text-anchor="end" fill="#000" stroke="#000" stroke-width="0.17" >Out</text><rect x="586.5" y="604.5" width="70" height="72" fill="#fff" stroke="#000" stroke-width="1" filter="url(#sh)"/><rect x="603.5" y="629.8" width="33.5" height="19.7" rx="5" fill="#f7f7f7"/><path d="M614.4,633.9 L608.2,646.4 L621.6,646.4 Z" fill="none" stroke="#000" stroke-width="1.1"/><ellipse cx="627.7" cy="639.8" rx="6.1" ry="6.5" fill="none" stroke="#000" stroke-width="1.1"/><line x1="622.2" y1="645.5" x2="633.8" y2="633.0" stroke="#000" stroke-width="1.1"/><text transform="translate(589.40 644.10) scale(1.05 1)" font-size="9.5" text-anchor="start" fill="#000" stroke="#000" stroke-width="0.17" >In</text><text transform="translate(652.90 644.10) scale(1.05 1)" font-size="9.5" text-anchor="end" fill="#000" stroke="#000" stroke-width="0.17" >Out</text><rect x="686.5" y="604.5" width="70" height="72" fill="#60bcfc" stroke="#000" stroke-width="1" filter="url(#sh)"/><path d="M706,628.5 L733.2,640.2 L706,652.0 Z" fill="#4c94c9" stroke="#000" stroke-width="1"/><circle cx="733.4" cy="640.3" r="0.9" fill="#000"/><text transform="translate(689.40 644.10) scale(1.05 1)" font-size="9.5" text-anchor="start" fill="#000" stroke="#000" stroke-width="0.17" >In</text><text transform="translate(752.90 644.10) scale(1.05 1)" font-size="9.5" text-anchor="end" fill="#000" stroke="#000" stroke-width="0.17" >Out</text><text transform="translate(720.80 689.00) scale(1.05 1)" font-size="9.5" text-anchor="middle" fill="#1a1a1a" stroke="#1a1a1a" stroke-width="0.17" >PA5</text><polygon points="847.0,640.5 854.2,633.3 869.5,633.3 876.7,640.5 869.5,647.7 854.2,647.7" fill="#fff" stroke="#000" stroke-width="1.1" filter="url(#sh)"/><text transform="translate(860.80 644.00) scale(1.05 1)" font-size="9.5" text-anchor="middle" fill="#000" stroke="#000" stroke-width="0.17" >6</text><text transform="translate(860.80 660.00) scale(1.05 1)" font-size="9.5" text-anchor="middle" fill="#1a1a1a" stroke="#1a1a1a" stroke-width="0.17" >#6</text><line x1="215.3" y1="640.5" x2="282.7" y2="640.5" stroke="#0c177c" stroke-width="1.6"/><line x1="350.3" y1="640.5" x2="387.7" y2="640.5" stroke="#0c177c" stroke-width="1.6"/><line x1="455.3" y1="640.5" x2="487.7" y2="640.5" stroke="#0c177c" stroke-width="1.6"/><line x1="555.3" y1="640.5" x2="587.7" y2="640.5" stroke="#0c177c" stroke-width="1.6"/><line x1="655.3" y1="640.5" x2="687.7" y2="640.5" stroke="#0c177c" stroke-width="1.6"/><line x1="755.3" y1="640.5" x2="847.3" y2="640.5" stroke="#0c177c" stroke-width="1.6"/><text transform="translate(213.50 759.10) scale(1.05 1)" font-size="9.5" text-anchor="end" fill="#000" stroke="#000" stroke-width="0.17" >8+</text><rect x="281.5" y="719.5" width="70" height="72" fill="#60bcfc" stroke="#000" stroke-width="1" filter="url(#sh)"/><path d="M300.50,734.00 C305.30,728.15 311.20,728.15 316.00,734.00 C320.80,739.85 326.70,739.85 331.50,734.00" fill="none" stroke="#0e1c2a" stroke-width="1.4"/><path d="M300.50,746.70 C305.30,740.85 311.20,740.85 316.00,746.70 C320.80,752.55 326.70,752.55 331.50,746.70" fill="none" stroke="#0e1c2a" stroke-width="1.4"/><path d="M300.50,759.40 C305.30,753.55 311.20,753.55 316.00,759.40 C320.80,765.25 326.70,765.25 331.50,759.40" fill="none" stroke="#0e1c2a" stroke-width="1.4"/><line x1="311.80" y1="737.90" x2="319.80" y2="729.70" stroke="#0e1c2a" stroke-width="1.4"/><line x1="311.80" y1="763.30" x2="319.80" y2="755.10" stroke="#0e1c2a" stroke-width="1.4"/><use href="#one" transform="translate(284.50 759.10) scale(0.00487 -0.00464)" fill="#000" stroke="#000" stroke-width="36.6"/><text transform="translate(342.50 759.10) scale(1.05 1)" font-size="9.5" text-anchor="start" fill="#000" stroke="#000" stroke-width="0.17" >2</text><text transform="translate(315.90 782.50) scale(1.075 1)" font-size="9.5" text-anchor="middle">Butterworth</text><rect x="386.5" y="719.5" width="70" height="72" fill="#60bcfc" stroke="#000" stroke-width="1" filter="url(#sh)"/><path d="M406,743.5 L433.2,755.2 L406,767.0 Z" fill="#4c94c9" stroke="#000" stroke-width="1"/><circle cx="433.4" cy="755.3" r="0.9" fill="#000"/><text transform="translate(389.40 759.10) scale(1.05 1)" font-size="9.5" text-anchor="start" fill="#000" stroke="#000" stroke-width="0.17" >In</text><text transform="translate(452.90 759.10) scale(1.05 1)" font-size="9.5" text-anchor="end" fill="#000" stroke="#000" stroke-width="0.17" >Out</text><rect x="486.5" y="718.5" width="70" height="74" fill="#60bcfc" stroke="#000" stroke-width="1" filter="url(#sh)"/><line x1="496.4" y1="747.8" x2="512.5" y2="747.8" stroke="#1d3347" stroke-width="2"/><line x1="529.7" y1="747.8" x2="545.3" y2="747.8" stroke="#1d3347" stroke-width="2"/><path d="M501.8,744.0999999999999 L506.9,747.8 L501.8,751.5 Z" fill="#000"/><path d="M535.7,744.0999999999999 L540.8,747.8 L535.7,751.5 Z" fill="#000"/><circle cx="521.1" cy="747.8" r="8.6" fill="#55a9e3" stroke="#000" stroke-width="1.2"/><path d="M515.01894,741.71894 L527.18106,753.8810599999999 M527.18106,741.71894 L515.01894,753.8810599999999" stroke="#000" stroke-width="1"/><path d="M521.1,756.4 L521.1,767.3 L514.4,767.3" fill="none" stroke="#1d3347" stroke-width="2"/><circle cx="508.3" cy="767.3" r="6.1" fill="none" stroke="#000" stroke-width="1.15"/><path d="M504.7,768.0999999999999 C505.7,763.0999999999999 507.7,763.6999999999999 508.3,767.3 C508.90000000000003,770.9 510.90000000000003,771.5 511.90000000000003,766.5" fill="none" stroke="#000" stroke-width="1"/><text transform="translate(521.20 732.10) scale(1.05 1)" font-size="9.5" text-anchor="middle" fill="#000" stroke="#000" stroke-width="0.17" >Mod</text><text transform="translate(489.40 759.10) scale(1.05 1)" font-size="9.5" text-anchor="start" fill="#000" stroke="#000" stroke-width="0.17" >In</text><text transform="translate(552.90 759.10) scale(1.05 1)" font-size="9.5" text-anchor="end" fill="#000" stroke="#000" stroke-width="0.17" >Out</text><rect x="586.5" y="719.5" width="70" height="72" fill="#fff" stroke="#000" stroke-width="1" filter="url(#sh)"/><rect x="603.5" y="744.8" width="33.5" height="19.7" rx="5" fill="#f7f7f7"/><path d="M614.4,748.9 L608.2,761.4 L621.6,761.4 Z" fill="none" stroke="#000" stroke-width="1.1"/><ellipse cx="627.7" cy="754.8" rx="6.1" ry="6.5" fill="none" stroke="#000" stroke-width="1.1"/><line x1="622.2" y1="760.5" x2="633.8" y2="748.0" stroke="#000" stroke-width="1.1"/><text transform="translate(589.40 759.10) scale(1.05 1)" font-size="9.5" text-anchor="start" fill="#000" stroke="#000" stroke-width="0.17" >In</text><text transform="translate(652.90 759.10) scale(1.05 1)" font-size="9.5" text-anchor="end" fill="#000" stroke="#000" stroke-width="0.17" >Out</text><rect x="686.5" y="719.5" width="70" height="72" fill="#60bcfc" stroke="#000" stroke-width="1" filter="url(#sh)"/><path d="M706,743.5 L733.2,755.2 L706,767.0 Z" fill="#4c94c9" stroke="#000" stroke-width="1"/><circle cx="733.4" cy="755.3" r="0.9" fill="#000"/><text transform="translate(689.40 759.10) scale(1.05 1)" font-size="9.5" text-anchor="start" fill="#000" stroke="#000" stroke-width="0.17" >In</text><text transform="translate(752.90 759.10) scale(1.05 1)" font-size="9.5" text-anchor="end" fill="#000" stroke="#000" stroke-width="0.17" >Out</text><text transform="translate(720.80 804.00) scale(1.05 1)" font-size="9.5" text-anchor="middle" fill="#1a1a1a" stroke="#1a1a1a" stroke-width="0.17" >PA6</text><polygon points="847.0,755.5 854.2,748.3 869.5,748.3 876.7,755.5 869.5,762.7 854.2,762.7" fill="#fff" stroke="#000" stroke-width="1.1" filter="url(#sh)"/><text transform="translate(860.80 759.00) scale(1.05 1)" font-size="9.5" text-anchor="middle" fill="#000" stroke="#000" stroke-width="0.17" >7</text><text transform="translate(860.80 775.00) scale(1.05 1)" font-size="9.5" text-anchor="middle" fill="#1a1a1a" stroke="#1a1a1a" stroke-width="0.17" >#7</text><line x1="215.3" y1="755.5" x2="282.7" y2="755.5" stroke="#0c177c" stroke-width="1.6"/><line x1="350.3" y1="755.5" x2="387.7" y2="755.5" stroke="#0c177c" stroke-width="1.6"/><line x1="455.3" y1="755.5" x2="487.7" y2="755.5" stroke="#0c177c" stroke-width="1.6"/><line x1="555.3" y1="755.5" x2="587.7" y2="755.5" stroke="#0c177c" stroke-width="1.6"/><line x1="655.3" y1="755.5" x2="687.7" y2="755.5" stroke="#0c177c" stroke-width="1.6"/><line x1="755.3" y1="755.5" x2="847.3" y2="755.5" stroke="#0c177c" stroke-width="1.6"/><text transform="translate(213.50 874.10) scale(1.05 1)" font-size="9.5" text-anchor="end" fill="#000" stroke="#000" stroke-width="0.17" >9+</text><rect x="281.5" y="834.5" width="70" height="72" fill="#60bcfc" stroke="#000" stroke-width="1" filter="url(#sh)"/><path d="M300.50,849.00 C305.30,843.15 311.20,843.15 316.00,849.00 C320.80,854.85 326.70,854.85 331.50,849.00" fill="none" stroke="#0e1c2a" stroke-width="1.4"/><path d="M300.50,861.70 C305.30,855.85 311.20,855.85 316.00,861.70 C320.80,867.55 326.70,867.55 331.50,861.70" fill="none" stroke="#0e1c2a" stroke-width="1.4"/><path d="M300.50,874.40 C305.30,868.55 311.20,868.55 316.00,874.40 C320.80,880.25 326.70,880.25 331.50,874.40" fill="none" stroke="#0e1c2a" stroke-width="1.4"/><line x1="311.80" y1="852.90" x2="319.80" y2="844.70" stroke="#0e1c2a" stroke-width="1.4"/><line x1="311.80" y1="878.30" x2="319.80" y2="870.10" stroke="#0e1c2a" stroke-width="1.4"/><use href="#one" transform="translate(284.50 874.10) scale(0.00487 -0.00464)" fill="#000" stroke="#000" stroke-width="36.6"/><text transform="translate(342.50 874.10) scale(1.05 1)" font-size="9.5" text-anchor="start" fill="#000" stroke="#000" stroke-width="0.17" >2</text><text transform="translate(315.90 897.50) scale(1.075 1)" font-size="9.5" text-anchor="middle">Butterworth</text><rect x="386.5" y="834.5" width="70" height="72" fill="#60bcfc" stroke="#000" stroke-width="1" filter="url(#sh)"/><path d="M406,858.5 L433.2,870.2 L406,882.0 Z" fill="#4c94c9" stroke="#000" stroke-width="1"/><circle cx="433.4" cy="870.3" r="0.9" fill="#000"/><text transform="translate(389.40 874.10) scale(1.05 1)" font-size="9.5" text-anchor="start" fill="#000" stroke="#000" stroke-width="0.17" >In</text><text transform="translate(452.90 874.10) scale(1.05 1)" font-size="9.5" text-anchor="end" fill="#000" stroke="#000" stroke-width="0.17" >Out</text><rect x="486.5" y="833.5" width="70" height="74" fill="#60bcfc" stroke="#000" stroke-width="1" filter="url(#sh)"/><line x1="496.4" y1="862.8" x2="512.5" y2="862.8" stroke="#1d3347" stroke-width="2"/><line x1="529.7" y1="862.8" x2="545.3" y2="862.8" stroke="#1d3347" stroke-width="2"/><path d="M501.8,859.0999999999999 L506.9,862.8 L501.8,866.5 Z" fill="#000"/><path d="M535.7,859.0999999999999 L540.8,862.8 L535.7,866.5 Z" fill="#000"/><circle cx="521.1" cy="862.8" r="8.6" fill="#55a9e3" stroke="#000" stroke-width="1.2"/><path d="M515.01894,856.71894 L527.18106,868.8810599999999 M527.18106,856.71894 L515.01894,868.8810599999999" stroke="#000" stroke-width="1"/><path d="M521.1,871.4 L521.1,882.3 L514.4,882.3" fill="none" stroke="#1d3347" stroke-width="2"/><circle cx="508.3" cy="882.3" r="6.1" fill="none" stroke="#000" stroke-width="1.15"/><path d="M504.7,883.0999999999999 C505.7,878.0999999999999 507.7,878.6999999999999 508.3,882.3 C508.90000000000003,885.9 510.90000000000003,886.5 511.90000000000003,881.5" fill="none" stroke="#000" stroke-width="1"/><text transform="translate(521.20 847.10) scale(1.05 1)" font-size="9.5" text-anchor="middle" fill="#000" stroke="#000" stroke-width="0.17" >Mod</text><text transform="translate(489.40 874.10) scale(1.05 1)" font-size="9.5" text-anchor="start" fill="#000" stroke="#000" stroke-width="0.17" >In</text><text transform="translate(552.90 874.10) scale(1.05 1)" font-size="9.5" text-anchor="end" fill="#000" stroke="#000" stroke-width="0.17" >Out</text><rect x="586.5" y="834.5" width="70" height="72" fill="#fff" stroke="#000" stroke-width="1" filter="url(#sh)"/><rect x="603.5" y="859.8" width="33.5" height="19.7" rx="5" fill="#f7f7f7"/><path d="M614.4,863.9 L608.2,876.4 L621.6,876.4 Z" fill="none" stroke="#000" stroke-width="1.1"/><ellipse cx="627.7" cy="869.8" rx="6.1" ry="6.5" fill="none" stroke="#000" stroke-width="1.1"/><line x1="622.2" y1="875.5" x2="633.8" y2="863.0" stroke="#000" stroke-width="1.1"/><text transform="translate(589.40 874.10) scale(1.05 1)" font-size="9.5" text-anchor="start" fill="#000" stroke="#000" stroke-width="0.17" >In</text><text transform="translate(652.90 874.10) scale(1.05 1)" font-size="9.5" text-anchor="end" fill="#000" stroke="#000" stroke-width="0.17" >Out</text><rect x="686.5" y="834.5" width="70" height="72" fill="#60bcfc" stroke="#000" stroke-width="1" filter="url(#sh)"/><path d="M706,858.5 L733.2,870.2 L706,882.0 Z" fill="#4c94c9" stroke="#000" stroke-width="1"/><circle cx="733.4" cy="870.3" r="0.9" fill="#000"/><text transform="translate(689.40 874.10) scale(1.05 1)" font-size="9.5" text-anchor="start" fill="#000" stroke="#000" stroke-width="0.17" >In</text><text transform="translate(752.90 874.10) scale(1.05 1)" font-size="9.5" text-anchor="end" fill="#000" stroke="#000" stroke-width="0.17" >Out</text><text transform="translate(720.80 919.00) scale(1.05 1)" font-size="9.5" text-anchor="middle" fill="#1a1a1a" stroke="#1a1a1a" stroke-width="0.17" >PA7</text><polygon points="847.0,870.5 854.2,863.3 869.5,863.3 876.7,870.5 869.5,877.7 854.2,877.7" fill="#fff" stroke="#000" stroke-width="1.1" filter="url(#sh)"/><text transform="translate(860.80 874.00) scale(1.05 1)" font-size="9.5" text-anchor="middle" fill="#000" stroke="#000" stroke-width="0.17" >8</text><text transform="translate(860.80 890.00) scale(1.05 1)" font-size="9.5" text-anchor="middle" fill="#1a1a1a" stroke="#1a1a1a" stroke-width="0.17" >#8</text><line x1="215.3" y1="870.5" x2="282.7" y2="870.5" stroke="#0c177c" stroke-width="1.6"/><line x1="350.3" y1="870.5" x2="387.7" y2="870.5" stroke="#0c177c" stroke-width="1.6"/><line x1="455.3" y1="870.5" x2="487.7" y2="870.5" stroke="#0c177c" stroke-width="1.6"/><line x1="555.3" y1="870.5" x2="587.7" y2="870.5" stroke="#0c177c" stroke-width="1.6"/><line x1="655.3" y1="870.5" x2="687.7" y2="870.5" stroke="#0c177c" stroke-width="1.6"/><line x1="755.3" y1="870.5" x2="847.3" y2="870.5" stroke="#0c177c" stroke-width="1.6"/>
</svg>
</body></html>
